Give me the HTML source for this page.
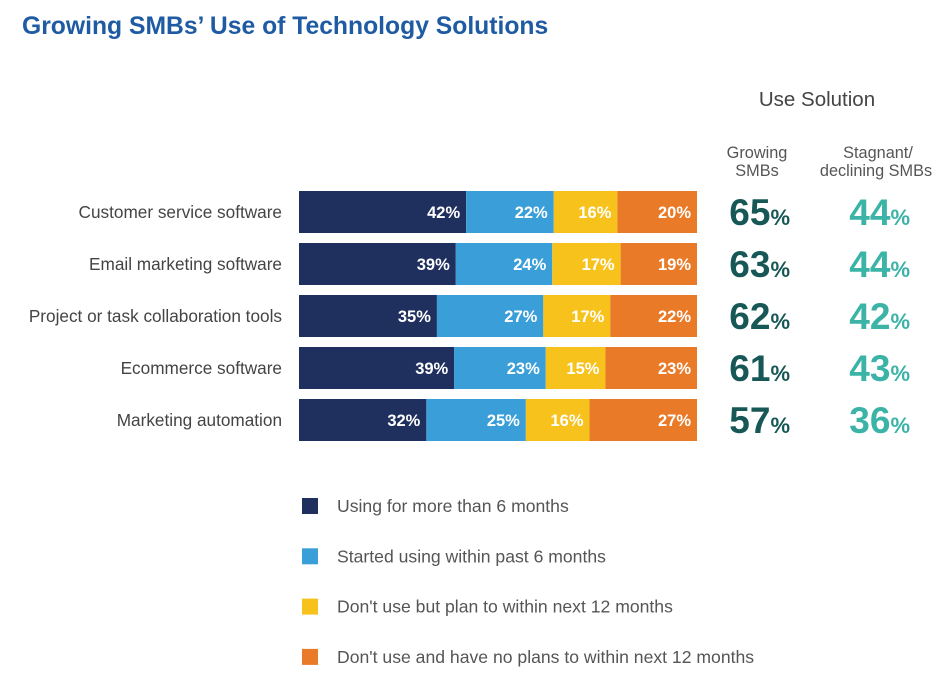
<!DOCTYPE html>
<html><head><meta charset="utf-8"><style>
body{margin:0;background:#fff;font-family:"Liberation Sans",sans-serif;}
svg text{font-family:"Liberation Sans",sans-serif;}
</style></head><body>
<svg width="950" height="680" id="c">
<text x="22" y="34" font-size="24.7" font-weight="bold" fill="#1f5ba3">Growing SMBs’ Use of Technology Solutions</text>
<text x="817" y="106" font-size="20.5" fill="#444" text-anchor="middle">Use Solution</text>
<text x="757" y="158" font-size="16.3" fill="#555" text-anchor="middle">Growing</text>
<text x="757" y="176" font-size="16.3" fill="#555" text-anchor="middle">SMBs</text>
<text x="878" y="158" font-size="16.3" fill="#555" text-anchor="middle">Stagnant/</text>
<text x="876" y="176" font-size="16.3" fill="#555" text-anchor="middle">declining SMBs</text>
</svg>
<script>
const categories=["Customer service software","Email marketing software","Project or task collaboration tools","Ecommerce software","Marketing automation"];
const using6=[42,39,35,39,32];
const started=[22,24,27,23,25];
const plan=[16,17,17,15,16];
const noPlan=[20,19,22,23,27];
const growing=[65,63,62,61,57];
const stagnant=[44,44,42,43,36];
const legendLabels=["Using for more than 6 months","Started using within past 6 months","Don't use but plan to within next 12 months","Don't use and have no plans to within next 12 months"];
const colors=["#1f2f5e","#3a9fd9","#f7c21b","#e97a28"];
const svg=document.getElementById('c');
const NS="http://www.w3.org/2000/svg";
const x0=299,W=398,y0=191,step=52,bh=42;
function mk(tag,attrs,txt){const e=document.createElementNS(NS,tag);for(const k in attrs)e.setAttribute(k,attrs[k]);if(txt!==undefined)e.textContent=txt;svg.appendChild(e);return e;}
const series=[using6,started,plan,noPlan];
categories.forEach((c,i)=>{
  const y=y0+i*step;
  const total=series.reduce((a,s)=>a+s[i],0);
  const xs=v=>v/total*W;
  const l=mk('text',{x:282,y:y+bh/2+6,'font-size':17.2,fill:'#444','text-anchor':'end'},c);
  
  
  let x=x0;
  series.forEach((s,j)=>{
    const w=xs(s[i]);
    const r=mk('rect',{x:x,y:y,width:w,height:bh,fill:colors[j]});
    
    
    const t=mk('text',{x:x+w-6,y:y+bh/2+6,'font-size':16.5,'font-weight':'bold',fill:'#fff','text-anchor':'end'},s[i]+'%');
    
    
    x+=w;
  });
  const g=mk('text',{x:790,y:y+bh/2+13,'font-size':37,'font-weight':'bold',fill:'#175857','text-anchor':'end'});
  g.innerHTML=growing[i]+'<tspan font-size="22">%</tspan>';
  
  
  const s2=mk('text',{x:910,y:y+bh/2+13,'font-size':37,'font-weight':'bold',fill:'#3bb3a6','text-anchor':'end'});
  s2.innerHTML=stagnant[i]+'<tspan font-size="22">%</tspan>';
  
  
});
legendLabels.forEach((t,i)=>{
  const y=498+i*50.3;
  const r=mk('rect',{x:302,y:y,width:16,height:16,fill:colors[i]});
  
  
  const tx=mk('text',{x:337,y:y+14,'font-size':17.6,fill:'#555'},t);
  
  
});
</script>
</body></html>
